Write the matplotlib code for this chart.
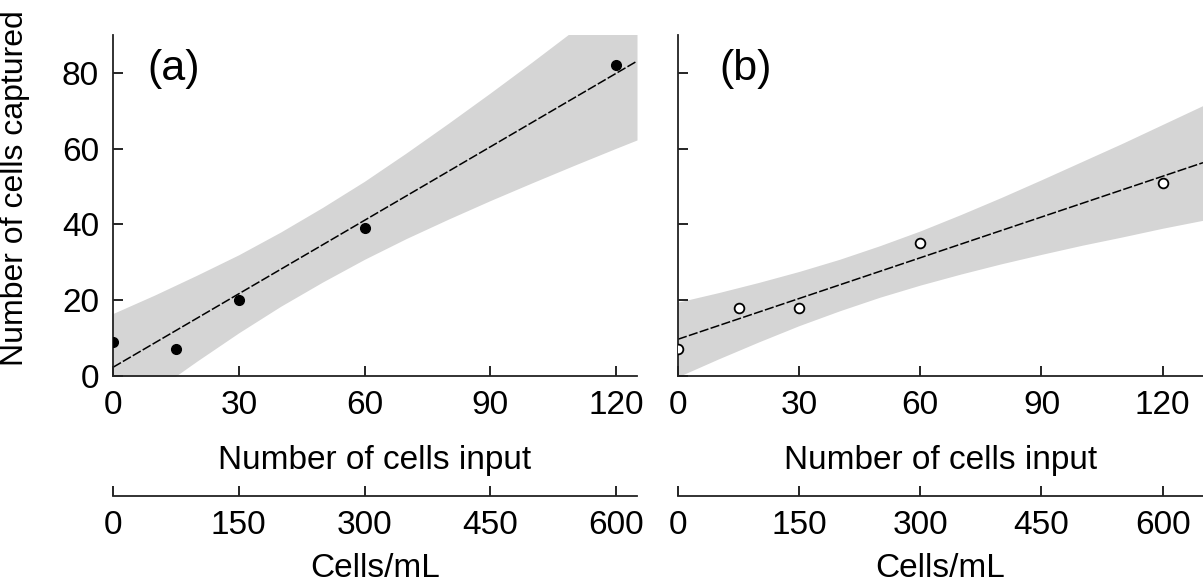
import numpy as np
import matplotlib
matplotlib.use('Agg')
import matplotlib.pyplot as plt

plt.rcParams['font.family'] = ['Liberation Sans', 'DejaVu Sans']

# measured points
cells_in = [0, 15, 30, 60, 120]
captured_a = [9, 7, 20, 39, 82]
captured_b = [7, 18, 18, 35, 51]

# fitted lines (end points)
fit_a_x = [0, 125]
fit_a_y = [2.3, 83.1]
fit_b_x = [0, 130]
fit_b_y = [9.7, 56.3]

# shaded bands, read at a few x positions
band_a_x = [0, 10, 20, 30, 40, 50, 60, 70, 80, 90, 100, 110, 120, 125]
band_a_lo = [-11.9, -3.9, 3.9, 11.4, 18.4, 24.8, 30.8, 36.3, 41.4, 46.3, 51.0, 55.6, 60.1, 62.3]
band_a_hi = [16.5, 21.4, 26.6, 32.0, 38.0, 44.5, 51.4, 58.9, 66.7, 74.7, 82.9, 91.3, 99.7, 103.9]

band_b_x = [0, 10, 20, 30, 40, 50, 60, 70, 80, 90, 100, 110, 120, 130]
band_b_lo = [-0.2, 4.5, 9.0, 13.3, 17.2, 20.8, 24.0, 26.9, 29.6, 32.1, 34.5, 36.7, 39.0, 41.1]
band_b_hi = [19.5, 22.0, 24.7, 27.6, 30.8, 34.4, 38.3, 42.6, 47.1, 51.8, 56.6, 61.4, 66.4, 71.4]

x_ticks = [0, 30, 60, 90, 120]
conc_ticks = [0, 150, 300, 450, 600]
y_ticks = [0, 20, 40, 60, 80]

W, H = 1203, 587
fig = plt.figure(figsize=(W / 100, H / 100), dpi=100)
ax_a = fig.add_axes([113 / W, (H - 376) / H, 524 / W, 341 / H])
ax_b = fig.add_axes([678 / W, (H - 376) / H, 525 / W, 341 / H])

band_col = '#d5d5d5'
fs = 24


def style(ax, xmax, show_y):
    ax.set_xlim(0, xmax)
    ax.set_ylim(0, 90)
    ax.set_xticks(x_ticks)
    ax.set_yticks(y_ticks)
    for sp in ['top', 'right']:
        ax.spines[sp].set_visible(False)
    for sp in ['left', 'bottom']:
        ax.spines[sp].set_linewidth(1.3)
        ax.spines[sp].set_color('#222222')
    ax.tick_params(direction='in', length=7, width=1.2, labelsize=fs, pad=10,
                   labelleft=show_y)
    ax.set_xlabel('Number of cells input', fontsize=fs, labelpad=17)

    sec = ax.secondary_xaxis(-120 / 341, functions=(lambda v: v * 5, lambda v: v / 5))
    sec.set_xticks(conc_ticks)
    sec.spines['bottom'].set_linewidth(1.3)
    sec.spines['bottom'].set_color('#222222')
    sec.tick_params(direction='in', length=7, width=1.2, labelsize=fs, pad=10)
    sec.set_xlabel('Cells/mL', fontsize=fs, labelpad=9)


# panel (a)
ax_a.fill_between(band_a_x, band_a_lo, band_a_hi, color=band_col, lw=0, zorder=1)
ax_a.plot(fit_a_x, fit_a_y, color='black', lw=1.1, dashes=(6, 1.5), zorder=2)
ax_a.plot(cells_in, captured_a, 'o', color='black', ms=7, zorder=3)
style(ax_a, 125, True)
ax_a.set_ylabel('Number of cells captured', fontsize=23)
ax_a.yaxis.set_label_coords(-0.158, 0.55)
ax_a.text(0.065, 0.90, '(a)', transform=ax_a.transAxes, fontsize=31,
          va='center', ha='left')

# panel (b)
ax_b.fill_between(band_b_x, band_b_lo, band_b_hi, color=band_col, lw=0, zorder=1)
ax_b.plot(fit_b_x, fit_b_y, color='black', lw=1.1, dashes=(6, 1.5), zorder=2)
ax_b.plot(cells_in, captured_b, 'o', mfc='white', mec='black', mew=1.3, ms=7, zorder=3)
style(ax_b, 130, False)
ax_b.text(0.078, 0.90, '(b)', transform=ax_b.transAxes, fontsize=31,
          va='center', ha='left')

fig.savefig('out.png', dpi=100)
